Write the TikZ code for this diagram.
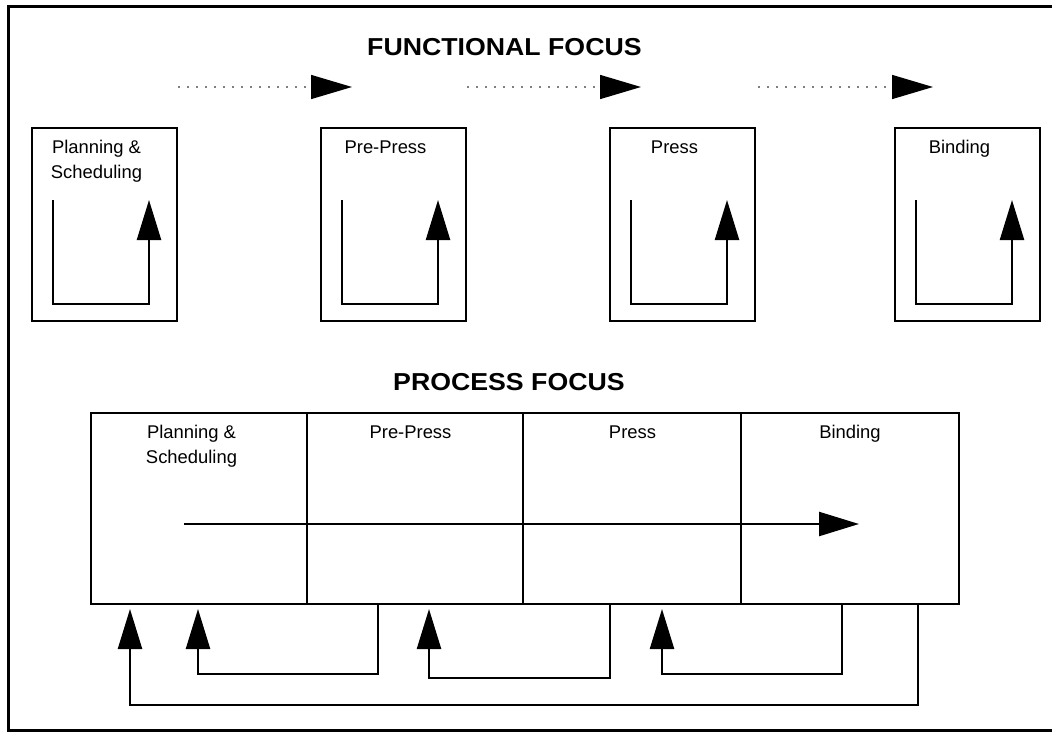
\documentclass[tikz,border=0pt]{standalone}
\usepackage{fontspec}
\setmainfont{Liberation Sans}
\newfontfamily\titlefont[FakeStretch=1.09]{Liberation Sans}
\usetikzlibrary{arrows.meta}
\begin{document}
\begin{tikzpicture}[x=1pt,y=-1pt,
  outerframe/.style={line width=3pt},
  fbox/.style={draw, line width=2.6pt, minimum width=145pt, minimum height=193pt, inner sep=0pt},
  pbox/.style={draw, line width=2.6pt, minimum width=868pt, minimum height=191pt, inner sep=0pt},
  lbl/.style={font=\fontsize{18.4}{25}\selectfont, anchor=base, inner sep=0pt, align=center},
  ttl/.style={font=\titlefont\fontsize{24.5}{30}\selectfont\bfseries, anchor=base west, inner sep=0pt},
  flow/.style={line width=2.4pt, -{Triangle[length=40pt,width=24pt]}},
  plain/.style={line width=2.4pt},
  dotarrow/.style={draw=gray, line width=1.5pt, dash pattern=on 1.6pt off 7.4pt, -{Triangle[length=41pt,width=24pt,color=black]}},
]
\useasboundingbox (0,0) rectangle (1052,731);
\fill[white] (0,0) rectangle (1052,731);
\draw[outerframe] (1070,6) -- (8.5,6) -- (8.5,730) -- (1070,730);

% titles
\node[ttl] (t1) at (367,55) {FUNCTIONAL FOCUS};
\node[ttl] (t2) at (393,390) {PROCESS FOCUS};

% dotted arrows
\coordinate (d1s) at (178,87); \coordinate (d1e) at (352,87);
\coordinate (d2s) at (467,87); \coordinate (d2e) at (641,87);
\coordinate (d3s) at (758,87); \coordinate (d3e) at (933,87);
\draw[dotarrow] (d1s) -- (d1e);
\draw[dotarrow] (d2s) -- (d2e);
\draw[dotarrow] (d3s) -- (d3e);

% functional boxes
\node[fbox] (fb1) at (104.5,224.5) {};
\node[fbox] (fb2) at (393.5,224.5) {};
\node[fbox] (fb3) at (682.5,224.5) {};
\node[fbox] (fb4) at (967.5,224.5) {};
\node[lbl] (fl1) at (96.5,178) {Planning \&\\Scheduling};
\node[lbl] (fl2) at (385.5,153) {Pre-Press};
\node[lbl] (fl3) at (674.5,153) {Press};
\node[lbl] (fl4) at (959.5,153) {Binding};

% loops inside functional boxes
\foreach \i/\l in {1/32,2/321,3/610,4/895}{
  \coordinate (la\i) at (\l+21,200);
  \coordinate (lb\i) at (\l+21,304);
  \coordinate (lc\i) at (\l+117,304);
  \coordinate (ld\i) at (\l+117,200);
  \draw[flow] (la\i) -- (lb\i) -- (lc\i) -- (ld\i);
}

% process box
\node[pbox] (proc) at (525,508.5) {};
\coordinate (v1t) at (307,413); \coordinate (v1b) at (307,604);
\coordinate (v2t) at (523,413); \coordinate (v2b) at (523,604);
\coordinate (v3t) at (741,413); \coordinate (v3b) at (741,604);
\draw[plain] (v1t) -- (v1b);
\draw[plain] (v2t) -- (v2b);
\draw[plain] (v3t) -- (v3b);
\node[lbl] (pl1) at (191.5,463) {Planning \&\\Scheduling};
\node[lbl] (pl2) at (410.5,438) {Pre-Press};
\node[lbl] (pl3) at (632.5,438) {Press};
\node[lbl] (pl4) at (850,438) {Binding};

% main flow
\coordinate (ms) at (184,524); \coordinate (me) at (859,524);
\draw[flow] (ms) -- (me);

% feedback arrows
\coordinate (a0) at (918,604); \coordinate (a1) at (918,705); \coordinate (a2) at (130,705); \coordinate (a3) at (130,609);
\draw[flow] (a0) -- (a1) -- (a2) -- (a3);
\coordinate (b0) at (378,604); \coordinate (b1) at (378,674); \coordinate (b2) at (198,674); \coordinate (b3) at (198,609);
\draw[flow] (b0) -- (b1) -- (b2) -- (b3);
\coordinate (c0) at (610,604); \coordinate (c1) at (610,678); \coordinate (c2) at (429,678); \coordinate (c3) at (429,609);
\draw[flow] (c0) -- (c1) -- (c2) -- (c3);
\coordinate (e0) at (842,604); \coordinate (e1) at (842,674); \coordinate (e2) at (662,674); \coordinate (e3) at (662,609);
\draw[flow] (e0) -- (e1) -- (e2) -- (e3);
\end{tikzpicture}
\end{document}
